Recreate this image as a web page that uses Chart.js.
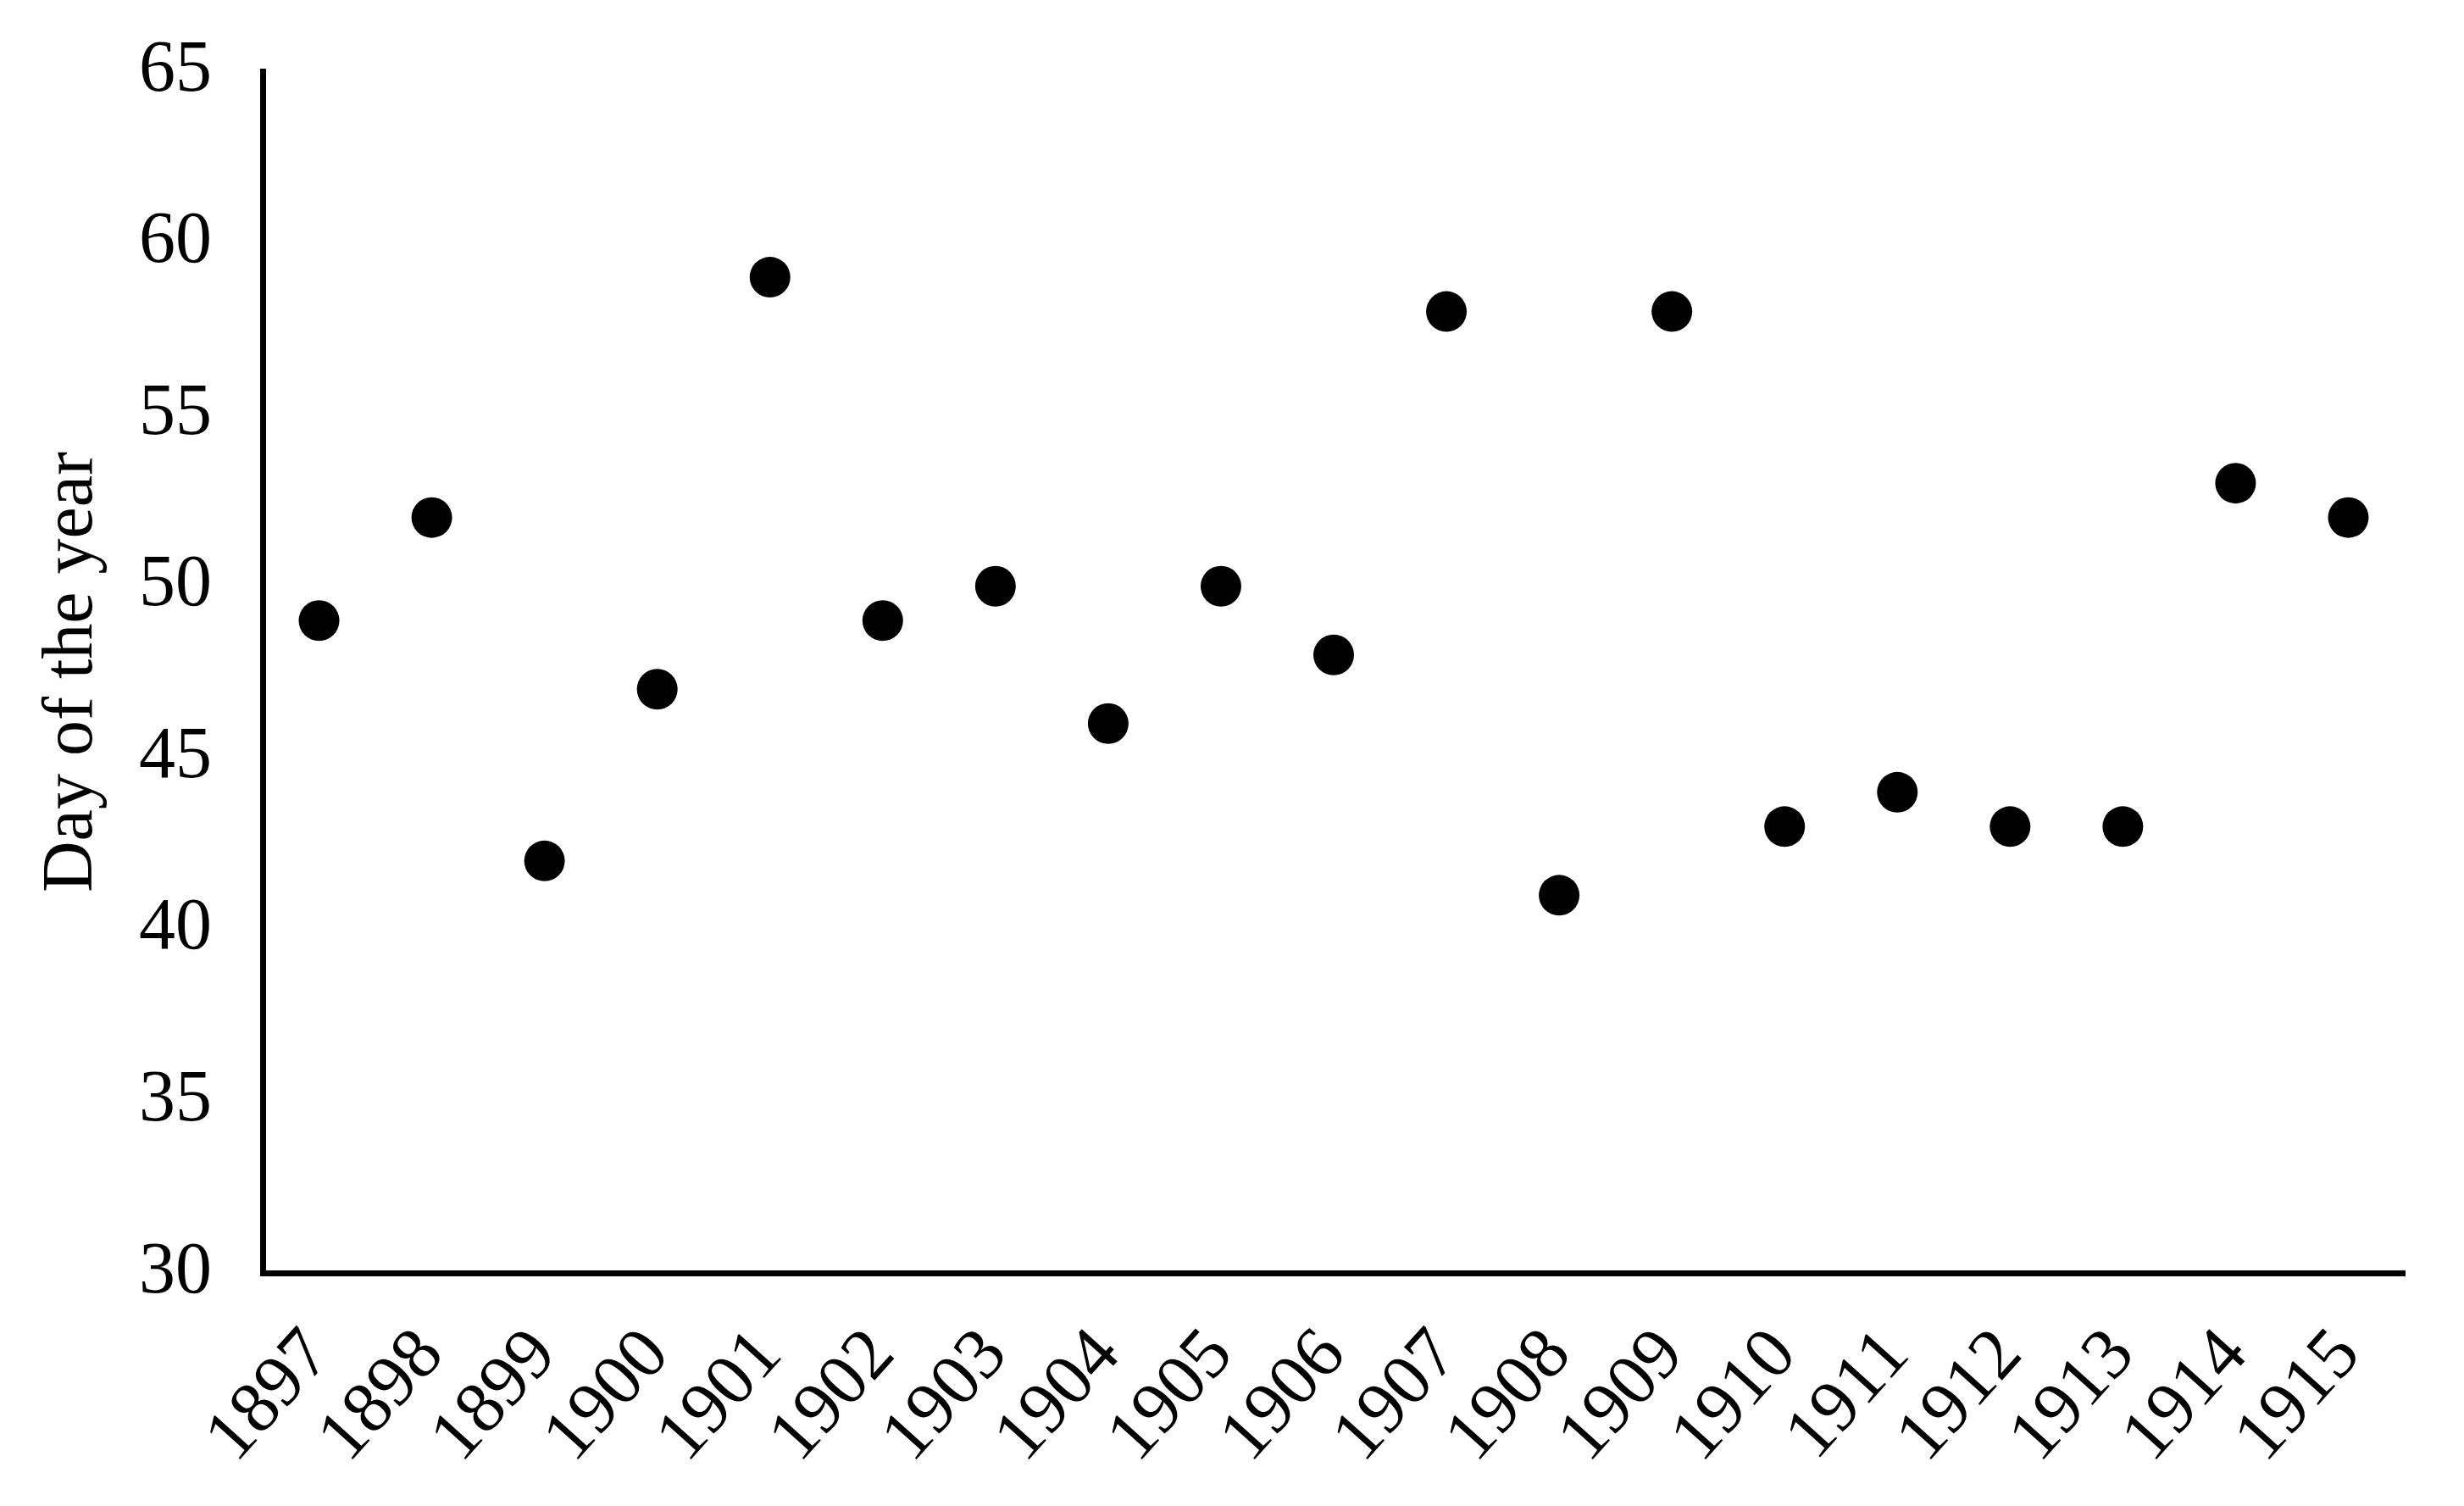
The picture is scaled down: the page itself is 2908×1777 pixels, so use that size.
<!DOCTYPE html>
<html>
<head>
<meta charset="utf-8">
<script src="https://cdn.jsdelivr.net/npm/chart.js@4/dist/chart.umd.min.js"></script>
<style>
  html, body { margin: 0; padding: 0; background: #fff; }
  #wrap { width: 2908px; height: 1777px; }
</style>
</head>
<body>
<div id="wrap"><canvas id="grafico"></canvas></div>
<script>
// datos
const years = ["1897", "1898", "1899", "1900", "1901", "1902", "1903", "1904", "1905", "1906",
  "1907", "1908", "1909", "1910", "1911", "1912", "1913", "1914", "1915"];
const dayOfYear = [49, 52, 42, 47, 59, 49, 50, 46, 50, 48, 58, 41, 58, 43, 44, 43, 43, 53, 52];
const yMin = 30;
const yMax = 65;
const yStep = 5;

const fuente = "'Liberation Serif', 'Times New Roman', serif";

// marcas de graduacion invisibles: solo sirven para separar las etiquetas del eje
const gridSinLineas = (largo) => ({
  display: true,
  drawOnChartArea: false,
  drawTicks: true,
  tickLength: largo,
  tickColor: "rgba(0,0,0,0)",
});

new Chart(document.getElementById("grafico"), {
  type: "line",
  data: {
    labels: years,
    datasets: [
      {
        label: "Day of the year",
        data: dayOfYear,
        showLine: false,
        pointRadius: 24,
        pointBackgroundColor: "#000",
        pointBorderColor: "#000",
        pointBorderWidth: 0,
      },
    ],
  },
  options: {
    responsive: true,
    maintainAspectRatio: false,
    animation: false,
    events: [],
    layout: { autoPadding: false, padding: { left: 0, right: 70, top: 84, bottom: 0 } },
    plugins: { legend: { display: false }, tooltip: { enabled: false } },
    scales: {
      x: {
        offset: true,
        grid: gridSinLineas(40),
        border: { display: true, color: "#000", width: 7 },
        ticks: {
          color: "#000",
          font: { family: fuente, size: 86 },
          minRotation: 48,
          maxRotation: 48,
          autoSkip: false,
          padding: 8,
        },
        afterFit: (s) => { s.height = 275; },
      },
      y: {
        min: yMin,
        max: yMax,
        grid: gridSinLineas(52),
        border: { display: true, color: "#000", width: 7 },
        ticks: {
          stepSize: yStep,
          color: "#000",
          font: { family: fuente, size: 86 },
          padding: 8,
        },
        title: {
          display: true,
          text: "Day of the year",
          color: "#000",
          font: { family: fuente, size: 84, lineHeight: 1.2 },
          padding: { top: 36, bottom: 0 },
        },
        afterFit: (s) => { s.width = 310; },
      },
    },
  },
});
</script>
</body>
</html>
